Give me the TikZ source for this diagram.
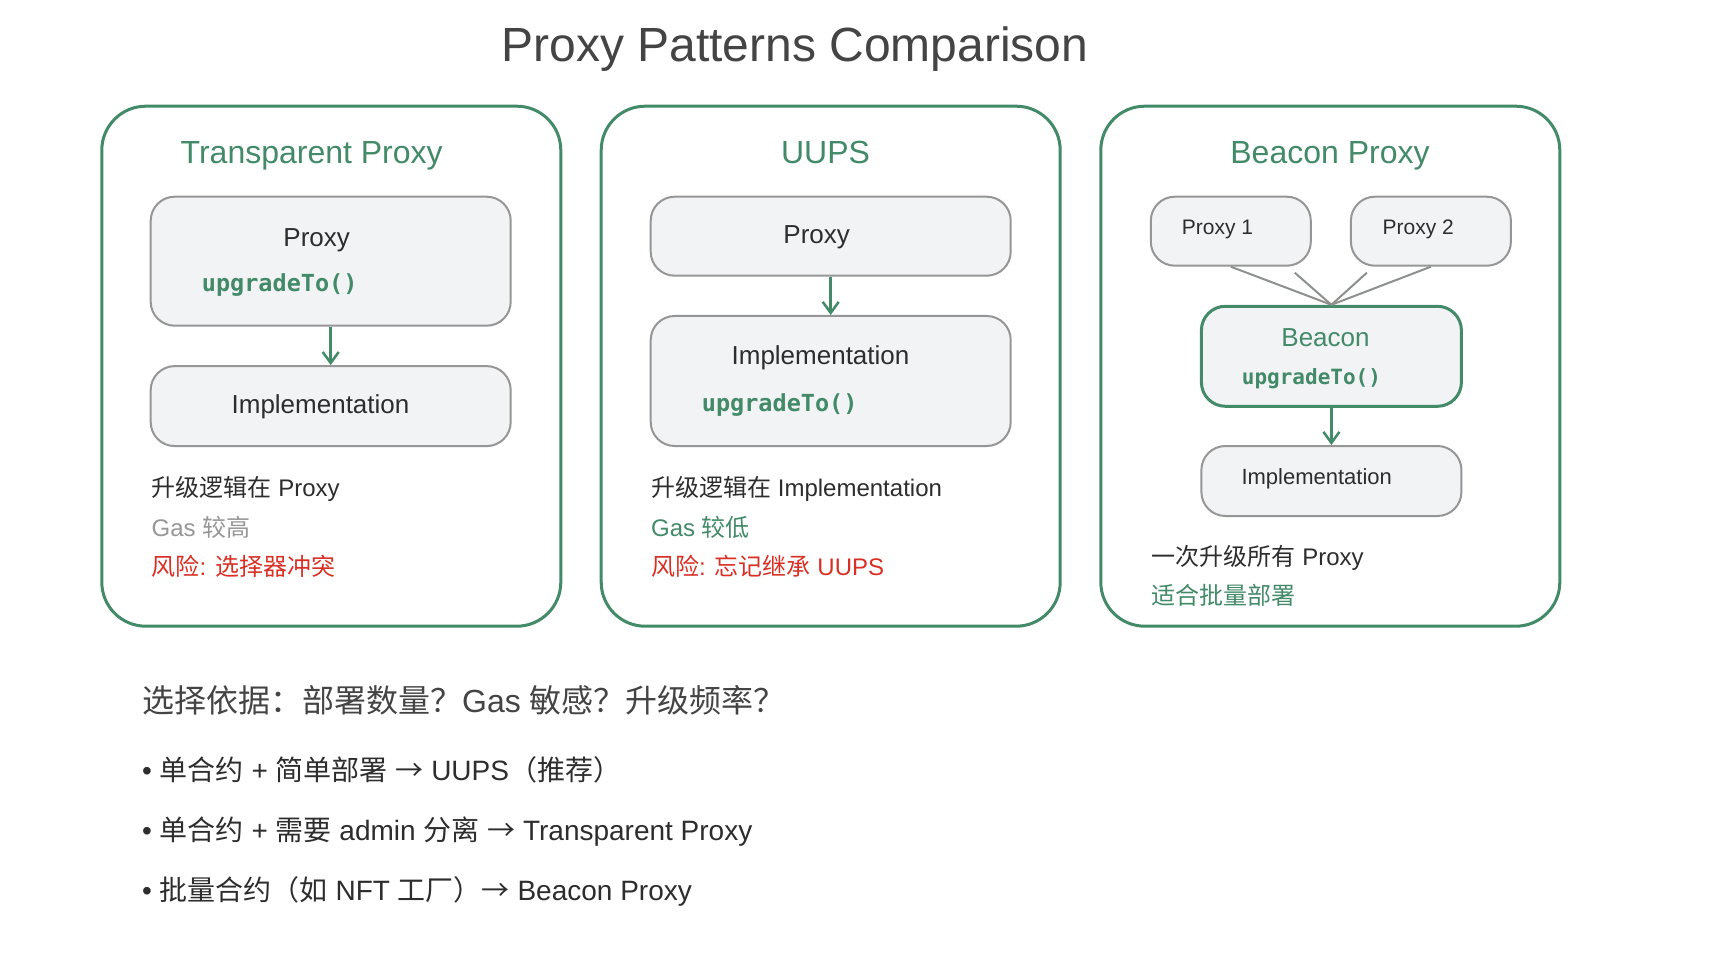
\documentclass[tikz,border=0pt]{standalone}
\usepackage{fontspec}
\setmainfont{Liberation Sans}
\newfontfamily\cjk{Noto Sans CJK SC}
\newfontfamily\codefont{DejaVu Sans Mono}
\usetikzlibrary{arrows.meta, positioning}
\definecolor{PanelGreen}{RGB}{66,138,104}
\definecolor{CardFill}{RGB}{242,243,244}
\definecolor{CardEdge}{RGB}{150,150,150}
\definecolor{LinkGray}{RGB}{140,145,142}
\definecolor{TitleGray}{RGB}{68,68,68}
\definecolor{TextDark}{RGB}{45,45,45}
\definecolor{TextMuted}{RGB}{150,150,150}
\definecolor{RiskRed}{RGB}{217,48,37}
\newcommand\zh[1]{{\cjk #1}}
\newcommand\fsz[1]{\fontsize{#1}{#1}\selectfont}

\begin{document}
\begin{tikzpicture}[x=1pt, y=-1pt,
    panel/.style={draw=PanelGreen, line width=3pt, rounded corners=44pt,
                  minimum width=459pt, minimum height=520pt},
    card/.style={draw=CardEdge, fill=CardFill, line width=2pt, rounded corners=24pt},
    flow/.style={PanelGreen, line width=2.5pt,
                 -{Straight Barb[length=11pt, width=16pt, line width=2.5pt]}},
    link/.style={LinkGray, line width=2pt},
    heading/.style={anchor=base, inner sep=0pt, text=PanelGreen, font=\fsz{32}},
    boxtext/.style={anchor=base, inner sep=0pt, text=TextDark, font=\fsz{26}},
    codetext/.style={anchor=base west, inner sep=0pt, text=PanelGreen,
                     font=\codefont\bfseries\fsz{23.5}},
    note/.style={anchor=base west, inner sep=0pt, text=TextDark, font=\fsz{24}},
    bullet/.style={anchor=base west, inner sep=0pt, text=TextDark, font=\fsz{28}}]
  \useasboundingbox[fill=white] (0,0) rectangle (1714,968);

  % title
  \node[anchor=base, inner sep=0pt, text=TitleGray, font=\fsz{48}] (mainTitle)
        at (795,62) {Proxy Patterns Comparison};

  % three panels
  \node[panel] (tpPanel) at (331.3,366.2) {};
  \node[panel] (uuPanel) at (830.7,366.2) {};
  \node[panel] (bcPanel) at (1330.3,366.2) {};

  \node[heading] (tpTitle) at (311.7,163.2) {Transparent Proxy};
  \node[heading] (uuTitle) at (825.5,163.2) {UUPS};
  \node[heading] (bcTitle) at (1330,163.2) {Beacon Proxy};

  % Transparent Proxy
  \node[card, minimum width=360pt, minimum height=129pt] (tpProxy) at (330.7,261.2) {};
  \node[boxtext] (tpProxyName) at (316.7,247) {Proxy};
  \node[codetext] (tpProxyCode) at (201.7,291.8) {upgradeTo()};
  \node[card, minimum width=360pt, minimum height=80pt] (tpImpl) at (330.7,406.1) {};
  \node[boxtext] (tpImplName) at (320.5,413.2) {Implementation};
  \draw[flow] (tpProxy) -- (tpImpl);

  \node[note] (tpNoteA) at (151.5,496) {\zh{升级逻辑在} Proxy};
  \node[note, text=TextMuted] (tpNoteB) at (151.5,536.5) {Gas \zh{较高}};
  \node[note, text=RiskRed] (tpNoteC) at (151.5,575.5) {\zh{风险}: \zh{选择器冲突}};

  % UUPS
  \node[card, minimum width=360pt, minimum height=79pt] (uuProxy) at (830.7,236.2) {};
  \node[boxtext] (uuProxyName) at (816.7,243.6) {Proxy};
  \node[card, minimum width=360pt, minimum height=130pt] (uuImpl) at (830.7,381) {};
  \node[boxtext] (uuImplName) at (820.5,365) {Implementation};
  \node[codetext] (uuImplCode) at (701.7,411.4) {upgradeTo()};
  \draw[flow] (uuProxy) -- (uuImpl);

  \node[note] (uuNoteA) at (651,496) {\zh{升级逻辑在} Implementation};
  \node[note, text=PanelGreen] (uuNoteB) at (651,536.5) {Gas \zh{较低}};
  \node[note, text=RiskRed] (uuNoteC) at (651,575.5) {\zh{风险}: \zh{忘记继承} UUPS};

  % Beacon Proxy
  \node[card, minimum width=160pt, minimum height=69pt] (bcProxyA) at (1230.8,231.2) {};
  \node[boxtext, font=\fsz{21}] (bcProxyAName) at (1217.5,234.6) {Proxy 1};
  \node[card, minimum width=160pt, minimum height=69pt] (bcProxyB) at (1430.9,231.2) {};
  \node[boxtext, font=\fsz{21}] (bcProxyBName) at (1418.3,234.6) {Proxy 2};
  \node[card, draw=PanelGreen, line width=3pt, minimum width=260pt, minimum height=100pt]
        (bcBeacon) at (1331.4,356.3) {};
  \node[boxtext, text=PanelGreen] (bcBeaconName) at (1325.5,346.4) {Beacon};
  \node[codetext, font=\codefont\bfseries\fsz{21}] (bcBeaconCode) at (1241.7,384.6) {upgradeTo()};
  \node[card, minimum width=260pt, minimum height=70pt] (bcImpl) at (1331.4,481) {};
  \node[boxtext, font=\fsz{22}] (bcImplName) at (1316.7,484.6) {Implementation};

  \draw[link] (bcProxyA.south) -- (bcBeacon.north);
  \draw[link] ([shift={(-17,6)}]bcProxyA.south east) -- (bcBeacon.north);
  \draw[link] ([shift={(17,6)}]bcProxyB.south west) -- (bcBeacon.north);
  \draw[link] (bcProxyB.south) -- (bcBeacon.north);
  \draw[flow] (bcBeacon) -- (bcImpl);

  \node[note] (bcNoteA) at (1151.5,565.5) {\zh{一次升级所有} Proxy};
  \node[note, text=PanelGreen] (bcNoteB) at (1151.5,604) {\zh{适合批量部署}};

  % selection guide
  \node[anchor=base west, inner sep=0pt, text=TitleGray, font=\fsz{32}] (criteria)
        at (142,712) {\zh{选择依据：部署数量？}Gas \zh{敏感？升级频率？}};
  \node[bullet] (ruleA) at (142,780) {• \zh{单合约} + \zh{简单部署} \zh{→} UUPS\zh{（推荐）}};
  \node[bullet] (ruleB) at (142,840) {• \zh{单合约} + \zh{需要} admin \zh{分离} \zh{→} Transparent Proxy};
  \node[bullet] (ruleC) at (142,900.5) {• \zh{批量合约（如} NFT \zh{工厂）→} Beacon Proxy};
\end{tikzpicture}
\end{document}
